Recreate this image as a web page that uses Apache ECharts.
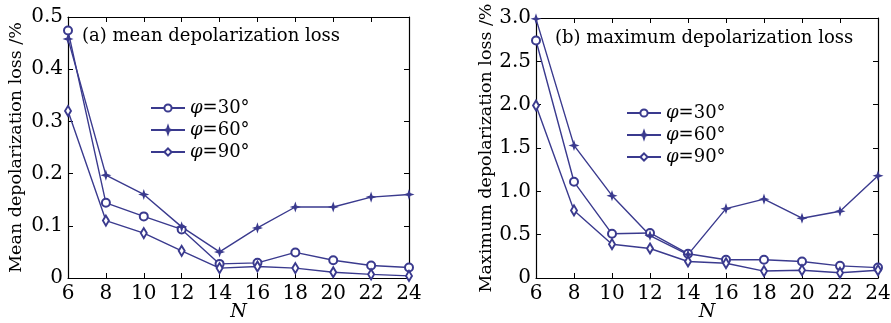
<!DOCTYPE html>
<html>
<head>
<meta charset="utf-8">
<script src="https://cdn.jsdelivr.net/npm/echarts@6/dist/echarts.min.js"></script>
<style>
  html, body { margin: 0; padding: 0; background: #fff; }
  #main { width: 891px; height: 323px; }
</style>
</head>
<body>
<div id="main"></div>
<script>
// N values (x)
var nValues = [6, 8, 10, 12, 14, 16, 18, 20, 22, 24];
var seriesNames = ['φ=30°', 'φ=60°', 'φ=90°'];

// (a) mean depolarization loss /%
var mean30 = [0.474, 0.144, 0.118, 0.093, 0.027, 0.029, 0.049, 0.034, 0.024, 0.020];
var mean60 = [0.458, 0.197, 0.160, 0.098, 0.050, 0.096, 0.136, 0.136, 0.155, 0.160];
var mean90 = [0.320, 0.110, 0.086, 0.052, 0.019, 0.022, 0.019, 0.011, 0.007, 0.004];

// (b) maximum depolarization loss /%
var max30 = [2.74, 1.11, 0.51, 0.52, 0.28, 0.21, 0.21, 0.19, 0.14, 0.12];
var max60 = [2.99, 1.53, 0.95, 0.49, 0.27, 0.80, 0.91, 0.69, 0.77, 1.18];
var max90 = [1.99, 0.78, 0.39, 0.34, 0.19, 0.17, 0.08, 0.09, 0.06, 0.09];

var ink = '#3a3a8e';
var font = 'DejaVu Serif';
var starPath = 'path://M0,-10 L2.5,-2.5 L10,0 L2.5,2.5 L0,10 L-2.5,2.5 L-10,0 L-2.5,-2.5Z';

function pairs(ys) {
  return nValues.map(function (x, i) { return [x, ys[i]]; });
}

function makeSeries(name, ys, gi) {
  var sym = { 'φ=30°': 'emptyCircle', 'φ=60°': starPath, 'φ=90°': 'emptyDiamond' }[name];
  var size = { 'φ=30°': 8, 'φ=60°': 7, 'φ=90°': [6, 10] }[name];
  return {
    name: name,
    type: 'line',
    xAxisIndex: gi * 2,
    yAxisIndex: gi * 2,
    data: pairs(ys),
    symbol: sym,
    symbolSize: size,
    showAllSymbol: true,
    lineStyle: { color: ink, width: 1.4 },
    itemStyle: { color: ink, borderColor: ink, borderWidth: 1.3 },
    animation: false
  };
}

function yLabel(v) { return v === 0 ? '0' : v.toFixed(1); }

var axisLine = { show: true, onZero: false, lineStyle: { color: '#000', width: 1.2 } };
var tick = { show: true, inside: true, length: 5, lineStyle: { color: '#000' } };
var labelStyle = { color: '#000', fontFamily: font, fontSize: 20 };

function xAxes(gi) {
  return [
    { gridIndex: gi, type: 'value', min: 6, max: 24, interval: 2, position: 'bottom',
      axisLine: axisLine, axisTick: tick, splitLine: { show: false },
      axisLabel: Object.assign({ margin: 6 }, labelStyle),
      name: 'N', nameLocation: 'middle', nameGap: 25, nameMoveOverlap: false,
      nameTextStyle: { color: '#000', fontFamily: font, fontSize: 19, fontStyle: 'italic' } },
    { gridIndex: gi, type: 'value', min: 6, max: 24, interval: 2, position: 'top',
      axisLine: axisLine, axisTick: tick, splitLine: { show: false }, axisLabel: { show: false } }
  ];
}

function yAxes(gi, max, interval, name, gap) {
  return [
    { gridIndex: gi, type: 'value', min: 0, max: max, interval: interval, position: 'left',
      axisLine: axisLine, axisTick: tick, splitLine: { show: false },
      axisLabel: Object.assign({ margin: 5, formatter: yLabel }, labelStyle),
      name: name, nameLocation: 'middle', nameGap: gap,
      nameTextStyle: { color: '#000', fontFamily: font, fontSize: 17.5 } },
    { gridIndex: gi, type: 'value', min: 0, max: max, interval: interval, position: 'right',
      axisLine: axisLine, axisTick: tick, splitLine: { show: false }, axisLabel: { show: false } }
  ];
}

function legend(left, top) {
  return {
    data: seriesNames, left: left, top: top, orient: 'vertical',
    itemWidth: 34, itemHeight: 9, itemGap: 4,
    formatter: function (n) { return n.replace('φ', '{i|φ}'); },
    textStyle: { color: '#000', fontFamily: font, fontSize: 18,
      rich: { i: { fontFamily: font, fontSize: 18, fontStyle: 'italic', color: '#000' } } },
    selectedMode: false
  };
}

var option = {
  backgroundColor: '#fff',
  animation: false,
  title: [
    { text: '(a) mean depolarization loss', left: 77, top: 22,
      textStyle: { color: '#000', fontFamily: font, fontSize: 18, fontWeight: 'normal' } },
    { text: '(b) maximum depolarization loss', left: 550, top: 24,
      textStyle: { color: '#000', fontFamily: font, fontSize: 18, fontWeight: 'normal' } }
  ],
  legend: [legend(145, 94), legend(621, 99)],
  grid: [
    { left: 68, right: 482, top: 17, bottom: 45, outerBoundsMode: 'none' },
    { left: 536, right: 13, top: 18, bottom: 45, outerBoundsMode: 'none' }
  ],
  xAxis: xAxes(0).concat(xAxes(1)),
  yAxis: yAxes(0, 0.5, 0.1, 'Mean depolarization loss /%', 43)
    .concat(yAxes(1, 3.0, 0.5, 'Maximum depolarization loss /%', 40)),
  series: [
    makeSeries(seriesNames[0], mean30, 0),
    makeSeries(seriesNames[1], mean60, 0),
    makeSeries(seriesNames[2], mean90, 0),
    makeSeries(seriesNames[0], max30, 1),
    makeSeries(seriesNames[1], max60, 1),
    makeSeries(seriesNames[2], max90, 1)
  ]
};

var myChart = echarts.init(document.getElementById('main'));
myChart.setOption(option);
</script>
</body>
</html>
